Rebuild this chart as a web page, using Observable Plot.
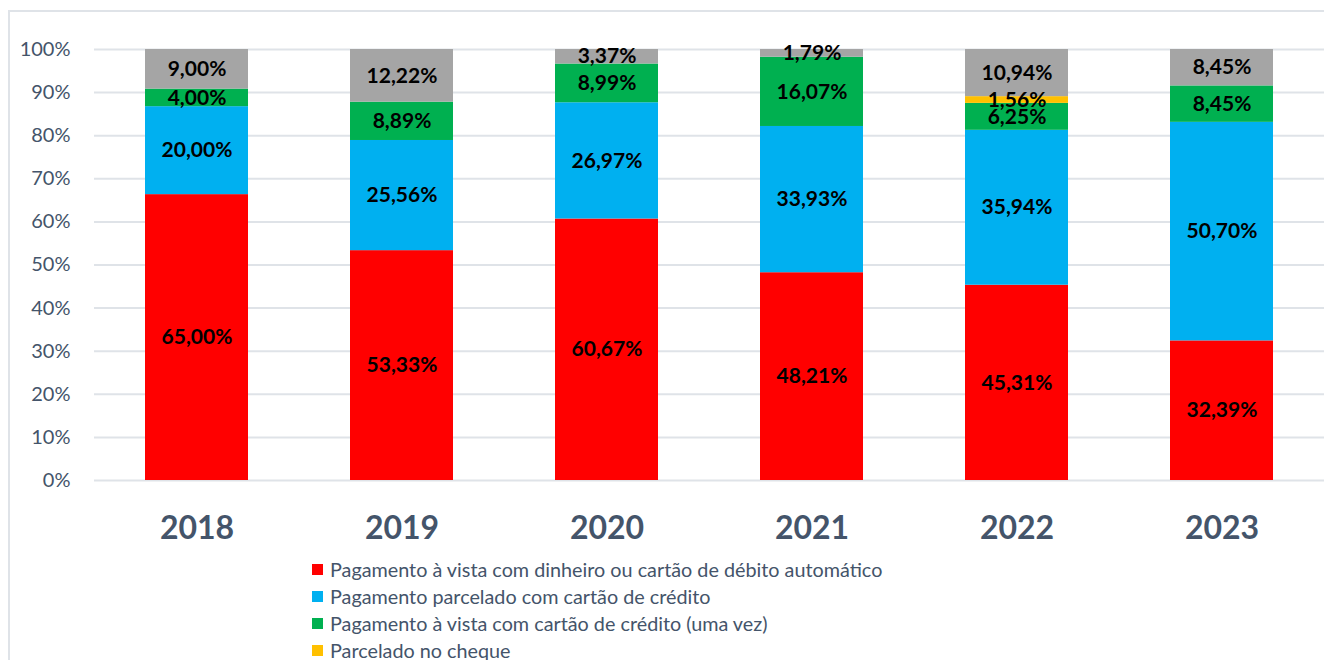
<!DOCTYPE html>
<html>
<head>
<meta charset="utf-8">
<script src="https://cdn.jsdelivr.net/npm/d3@7"></script>
<script src="https://cdn.jsdelivr.net/npm/@observablehq/plot@0.6"></script>
<style>
  html, body { margin: 0; padding: 0; background: #fff; overflow: hidden; }
  body { width: 1324px; height: 660px; position: relative; font-family: Lato, "Noto Sans", sans-serif; }
  #topline { position: absolute; left: 8px; top: 10px; width: 1316px; height: 2px; background: #dfe3e8; }
  #leftline { position: absolute; left: 8px; top: 10px; width: 2px; height: 650px; background: #dfe3e8; }
  #chart { position: absolute; left: 0; top: 0; width: 1324px; height: 550px; overflow: hidden; }
  #chart svg { display: block; }
  #legend { position: absolute; left: 312px; top: 556px; font-size: 19.8px; color: #44546a; }
  .item { height: 27px; line-height: 27px; display: flex; align-items: center; white-space: nowrap; }
  .sw { width: 11px; height: 11px; margin-right: 7px; flex: none; }
</style>
</head>
<body>
<div id="topline"></div>
<div id="leftline"></div>
<div id="chart"></div>
<div id="legend"></div>
<script>
const years = ["2018", "2019", "2020", "2021", "2022", "2023"];
const seriesNames = [
  "Pagamento à vista com dinheiro ou cartão de débito automático",
  "Pagamento parcelado com cartão de crédito",
  "Pagamento à vista com cartão de crédito (uma vez)",
  "Parcelado no cheque",
  "Outros"
];
const seriesColors = ["#ff0000", "#00b0f0", "#00b050", "#ffc000", "#a5a5a5"];
const aVistaDinheiro = [65.00, 53.33, 60.67, 48.21, 45.31, 32.39];
const parceladoCartao = [20.00, 25.56, 26.97, 33.93, 35.94, 50.70];
const aVistaCartao = [4.00, 8.89, 8.99, 16.07, 6.25, 8.45];
const parceladoCheque = [0, 0, 0, 0, 1.56, 0];
const outros = [9.00, 12.22, 3.37, 1.79, 10.94, 8.45];
const yTicks = [0, 0.1, 0.2, 0.3, 0.4, 0.5, 0.6, 0.7, 0.8, 0.9, 1];
const legendShown = 4;

const seriesValues = [aVistaDinheiro, parceladoCartao, aVistaCartao, parceladoCheque, outros];
const data = [];
seriesValues.forEach((vals, si) => {
  vals.forEach((v, yi) => data.push({ year: years[yi], series: seriesNames[si], value: v }));
});
const fmt = v => v.toFixed(2).replace(".", ",") + "%";

const chart = Plot.plot({
  width: 1324,
  height: 550,
  marginTop: 49,
  marginBottom: 70,
  marginLeft: 94,
  marginRight: 0,
  style: { fontFamily: "Lato, 'Noto Sans', sans-serif", background: "transparent" },
  x: { domain: years, paddingInner: 0.5, paddingOuter: 0.25, label: null },
  y: { domain: [0, 1], label: null },
  color: { domain: seriesNames, range: seriesColors },
  marks: [
    Plot.ruleY(yTicks, { stroke: "#dfe3e8", strokeWidth: 2 }),
    Plot.barY(data, Plot.stackY({
      x: "year", y: "value", z: "series", fill: "series",
      order: seriesNames, offset: "normalize"
    })),
    Plot.text(data, Plot.stackY({
      x: "year", y: "value", z: "series",
      order: seriesNames, offset: "normalize",
      text: d => d.value > 0 ? fmt(d.value) : "",
      fill: "#000", fontSize: 21, fontWeight: "bold"
    })),
    Plot.axisY({ ticks: yTicks, tickSize: 0, tickPadding: 24, fontSize: 20, fill: "#44546a",
      tickFormat: d => Math.round(d * 100) + "%" }),
    Plot.axisX({ tickSize: 0, tickPadding: 36, fontSize: 32, fontWeight: "bold", fill: "#44546a" })
  ]
});
document.getElementById("chart").appendChild(chart);

const legend = document.getElementById("legend");
seriesNames.slice(0, legendShown).forEach((name, i) => {
  const item = document.createElement("div");
  item.className = "item";
  const sw = document.createElement("span");
  sw.className = "sw";
  sw.style.background = seriesColors[i];
  const t = document.createElement("span");
  t.textContent = name;
  item.appendChild(sw);
  item.appendChild(t);
  legend.appendChild(item);
});
</script>
</body>
</html>
